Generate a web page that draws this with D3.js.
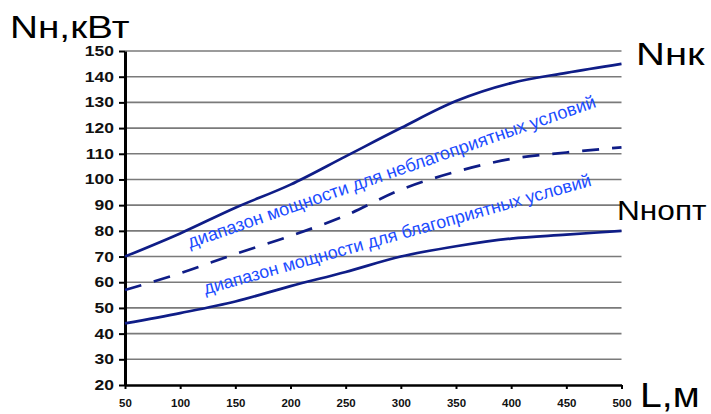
<!DOCTYPE html>
<html>
<head>
<meta charset="utf-8">
<script src="https://cdn.jsdelivr.net/npm/d3@7"></script>
<style>
  html, body { margin: 0; padding: 0; background: #fff; }
  svg { display: block; }
  text { font-family: "Liberation Sans", Arial, Helvetica, sans-serif; }
</style>
</head>
<body>
<svg id="chart" width="711" height="414"></svg>
<script>
// Distance, m
const lengths = [50, 100, 150, 200, 250, 300, 350, 400, 450, 500];
// Upper power limit Nнк, kW
const powerMax = [70, 79, 89, 98, 109, 120, 130.5, 137.5, 141.5, 145];
// Boundary between the two ranges (dashed)
const powerMid = [57, 63.5, 71, 78, 86, 96, 103, 108, 110.5, 112.5];
// Optimal power Nнопт, kW
const powerOpt = [44, 48, 52.5, 58.5, 64, 70, 74, 77, 78.5, 80];

const xTicks = [50, 100, 150, 200, 250, 300, 350, 400, 450, 500];
const yTicks = [20, 30, 40, 50, 60, 70, 80, 90, 100, 110, 120, 130, 140, 150];

// Range captions: start and end of the baseline in data units
const rangeLabels = [
  { text: "диапазон мощности для неблагоприятных условий", from: [109, 73.2], to: [478, 128.3] },
  { text: "диапазон мощности для благоприятных условий", from: [123, 55.2], to: [473.5, 97.6] }
];

const svg = d3.select("#chart");
const x = d3.scaleLinear().domain([50, 500]).range([125, 621.5]);
const y = d3.scaleLinear().domain([20, 150]).range([385, 51]);

const lineColor = "#0f1d87";
const textBlue = "#1b4cff";
const SX = 1.25; // horizontal stretch of the lettering

// grid
svg.append("g")
  .selectAll("line")
  .data(yTicks.filter(d => d > 20))
  .join("line")
  .attr("x1", x(50)).attr("x2", x(500))
  .attr("y1", d => y(d)).attr("y2", d => y(d))
  .attr("stroke", "#7a7a7a").attr("stroke-width", 1.6);

// axes
const yAxis = d3.axisLeft(y).tickValues(yTicks).tickSize(6).tickPadding(5).tickSizeOuter(0);
const gy = svg.append("g").attr("transform", `translate(${x(50)},0)`).call(yAxis);
gy.select(".domain").attr("stroke", "#000").attr("stroke-width", 3);
gy.selectAll(".tick line").attr("stroke", "#000").attr("stroke-width", 2);
gy.selectAll(".tick text")
  .attr("font-size", 14).attr("font-weight", "bold").attr("fill", "#111")
  .attr("font-family", "'Liberation Sans', Arial, sans-serif")
  .attr("text-anchor", "end")
  .attr("transform", function() {
    const xx = +d3.select(this).attr("x");
    return `translate(${xx},0) scale(${SX},1) translate(${-xx},0)`;
  });

const xAxis = d3.axisBottom(x).tickValues(xTicks).tickSize(4).tickPadding(11).tickSizeOuter(0);
const gx = svg.append("g").attr("transform", `translate(0,${y(20)})`).call(xAxis);
gx.select(".domain").attr("stroke", "#000").attr("stroke-width", 2.6);
gx.selectAll(".tick line").attr("stroke", "#000").attr("stroke-width", 2);
gx.selectAll(".tick text")
  .attr("font-size", 10).attr("font-weight", "bold").attr("fill", "#111")
  .attr("font-family", "'Liberation Sans', Arial, sans-serif")
  .attr("transform", "scale(1.15,1)");

// curves
const line = d3.line()
  .x((d, i) => x(lengths[i]))
  .y(d => y(d))
  .curve(d3.curveMonotoneX);

svg.append("path").datum(powerMax).attr("d", line)
  .attr("fill", "none").attr("stroke", lineColor).attr("stroke-width", 2.7);
svg.append("path").datum(powerMid).attr("d", line)
  .attr("fill", "none").attr("stroke", lineColor).attr("stroke-width", 2.7)
  .attr("stroke-dasharray", "17,13");
svg.append("path").datum(powerOpt).attr("d", line)
  .attr("fill", "none").attr("stroke", lineColor).attr("stroke-width", 2.7);

// range captions along the curves, sized to span from start to end
rangeLabels.forEach(r => {
  const x0 = x(r.from[0]), y0 = y(r.from[1]);
  const x1 = x(r.to[0]), y1 = y(r.to[1]);
  const ang = Math.atan2(y1 - y0, x1 - x0) * 180 / Math.PI;
  const len = Math.hypot(x1 - x0, y1 - y0);
  const t = svg.append("text")
    .attr("transform", `translate(${x0},${y0}) rotate(${ang})`)
    .attr("font-size", 20)
    .attr("fill", textBlue)
    .text(r.text);
  const natural = t.node().getComputedTextLength();
  t.attr("font-size", 20 * len / natural);
});

// titles
function title(txt, px, py, size, sx) {
  svg.append("text")
    .attr("transform", `translate(${px},${py}) scale(${sx},1)`)
    .attr("font-size", size)
    .attr("fill", "#000")
    .text(txt);
}
title("Nн,кВт", 10, 38, 31, SX);
title("Nнк", 636, 65, 32, SX);
title("Nнопт", 617, 220, 28, 1.13);
title("L,м", 640, 407, 35, 1.12);
</script>
</body>
</html>
